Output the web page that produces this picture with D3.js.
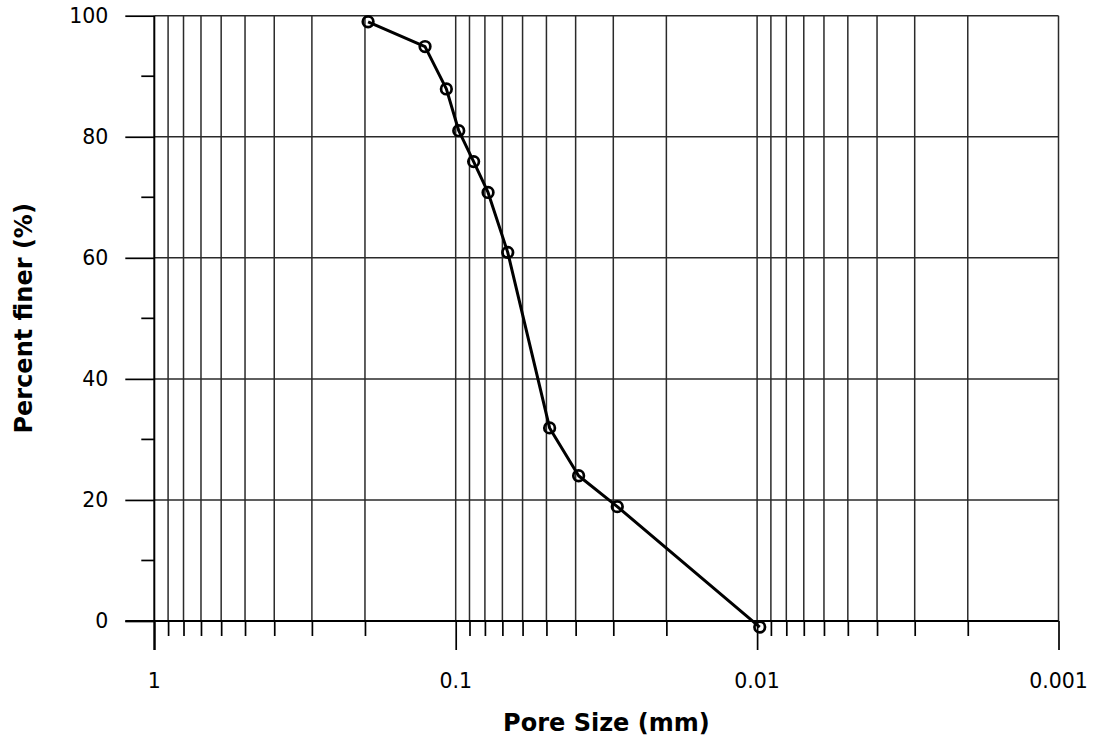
<!DOCTYPE html>
<html>
<head>
<meta charset="utf-8">
<script src="https://cdn.jsdelivr.net/npm/d3@7"></script>
<style>
  body { margin: 0; background: #fff; }
  text { font-family: "DejaVu Sans", Verdana, sans-serif; fill: #000; }
  .tick-label { font-size: 20.5px; }
  .title { font-size: 24px; font-weight: bold; }
</style>
</head>
<body>
<div id="chart"></div>
<script>
// pore size (mm) and percent finer
const poreSize = [0.1953, 0.1264, 0.1074, 0.0977, 0.0872, 0.0781, 0.0672, 0.0488, 0.0391, 0.0291, 0.0098];
const percentFiner = [99.0, 94.9, 87.9, 81.0, 75.9, 70.8, 60.9, 31.9, 24.0, 18.9, -1.0];

const xMajor = [1, 0.1, 0.01, 0.001];
const xMajorLabels = ["1", "0.1", "0.01", "0.001"];
const yMajor = [0, 20, 40, 60, 80, 100];
const yMinor = [10, 30, 50, 70, 90];

const margin = { top: 15.7, right: 34.5, bottom: 119, left: 154.3 };
const W = 1093, H = 740;
const width = W - margin.left - margin.right,
    height = H - margin.top - margin.bottom;

const svg = d3.select("#chart")
    .append("svg")
    .attr("width", W)
    .attr("height", H)
    .append("g")
    .attr("transform", "translate(" + margin.left + "," + margin.top + ")");

const x = d3.scaleLog().domain([1, 0.001]).range([0, width]);
const y = d3.scaleLinear().domain([0, 100]).range([height, 0]);

// minor log values 2..9 in every decade
let xMinor = [];
[0.1, 0.01, 0.001].forEach(d => {
    for (let k = 2; k <= 9; k++) xMinor.push(+(d * k).toPrecision(3));
});
const xAll = xMajor.concat(xMinor);

// vertical grid
svg.append("g")
    .selectAll("line")
    .data(xAll.filter(d => d !== 1))
    .enter()
    .append("line")
    .attr("x1", d => x(d)).attr("x2", d => x(d))
    .attr("y1", 0).attr("y2", height)
    .attr("stroke", "#2a2a2a")
    .attr("stroke-width", 1.5);

// horizontal grid
svg.append("g")
    .selectAll("line")
    .data(yMajor.filter(d => d !== 0))
    .enter()
    .append("line")
    .attr("x1", 0).attr("x2", width)
    .attr("y1", d => y(d)).attr("y2", d => y(d))
    .attr("stroke", "#2a2a2a")
    .attr("stroke-width", 1.5);

// x axis with long major / short minor ticks
const xAxis = d3.axisBottom(x)
    .tickValues(xAll)
    .tickSize(15)
    .tickFormat("");
const gx = svg.append("g")
    .attr("transform", "translate(0," + height + ")")
    .call(xAxis);
gx.select(".domain").remove();
gx.selectAll(".tick line")
    .attr("stroke", "#000")
    .attr("stroke-width", 1.7)
    .attr("y2", d => xMajor.includes(d) ? 29 : 15);

svg.append("line")
    .attr("x1", -29).attr("x2", width)
    .attr("y1", height).attr("y2", height)
    .attr("stroke", "#000").attr("stroke-width", 2);

gx.selectAll(".xlab")
    .data(xMajor)
    .enter()
    .append("text")
    .attr("class", "tick-label")
    .attr("x", d => x(d))
    .attr("y", 67)
    .attr("text-anchor", "middle")
    .text((d, i) => xMajorLabels[i]);

// y axis
const yAxis = d3.axisLeft(y)
    .tickValues(yMajor)
    .tickSize(29)
    .tickPadding(17)
    .tickFormat(d3.format("d"));
const gy = svg.append("g").call(yAxis);
gy.select(".domain").remove();
gy.selectAll(".tick line").attr("stroke", "#000").attr("stroke-width", 1.7);
gy.selectAll(".tick text")
    .attr("class", "tick-label")
    .attr("font-family", null)
    .attr("font-size", null);

svg.append("g")
    .selectAll("line")
    .data(yMinor)
    .enter()
    .append("line")
    .attr("x1", -13).attr("x2", 0)
    .attr("y1", d => y(d)).attr("y2", d => y(d))
    .attr("stroke", "#000").attr("stroke-width", 1.7);

svg.append("line")
    .attr("x1", 0).attr("x2", 0)
    .attr("y1", 0).attr("y2", height + 29)
    .attr("stroke", "#000").attr("stroke-width", 2);

// axis titles
svg.append("text")
    .attr("class", "title")
    .attr("x", width / 2)
    .attr("y", height + 110)
    .attr("text-anchor", "middle")
    .text("Pore Size (mm)");

svg.append("text")
    .attr("class", "title")
    .attr("transform", "rotate(-90)")
    .attr("x", -height / 2)
    .attr("y", 32 - margin.left)
    .attr("text-anchor", "middle")
    .text("Percent finer (%)");

// curve
const pts = poreSize.map((d, i) => [d, percentFiner[i]]);
const line = d3.line()
    .x(d => x(d[0]))
    .y(d => y(d[1]));

svg.append("path")
    .datum(pts)
    .attr("d", line)
    .attr("fill", "none")
    .attr("stroke", "#000")
    .attr("stroke-width", 3)
    .attr("stroke-linejoin", "round");

svg.append("g")
    .selectAll("circle")
    .data(pts)
    .enter()
    .append("circle")
    .attr("cx", d => x(d[0]))
    .attr("cy", d => y(d[1]))
    .attr("r", 5.3)
    .attr("fill", "none")
    .attr("stroke", "#000")
    .attr("stroke-width", 2.7);
</script>
</body>
</html>
